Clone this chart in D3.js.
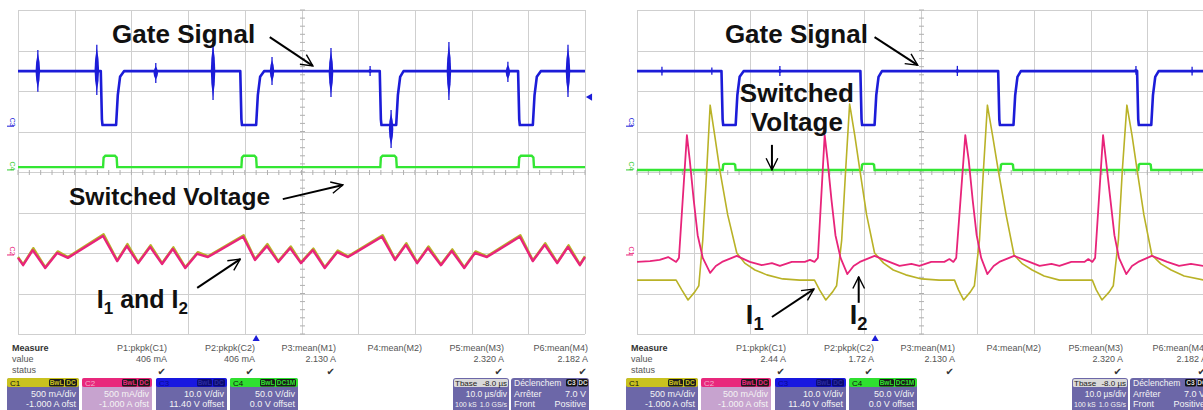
<!DOCTYPE html>
<html>
<head>
<meta charset="utf-8">
<script src="https://cdn.jsdelivr.net/npm/d3@7/dist/d3.min.js"></script>
<style>
    body { margin: 0; background: #fff; }
    svg { display: block; font-family: "Liberation Sans", Arial, sans-serif; }
</style>
</head>
<body>
<svg id="scope" width="1203" height="410"></svg>
<script>
/*************************************************************************************************************
 * Data read from the two scope captures (time in µs across 10 div, level in screen divisions)
 *************************************************************************************************************/
const timeDomain = [0, 100];   // 10.0 µs/div
const divDomain = [-4, 4];     // 8 vertical divisions

// left capture: both currents overlap
const gateLeft = [[0,2.49],[14.6,2.49],[14.8,1.3],[14.9,1.16],[17.3,1.16],[17.6,1.9],[18.0,2.35],[18.7,2.49],
    [39.2,2.49],[39.4,1.3],[39.5,1.16],[42.0,1.16],[42.3,1.9],[42.7,2.35],[43.4,2.49],
    [63.8,2.49],[64.0,1.3],[64.1,1.16],[66.7,1.16],[67.0,1.9],[67.4,2.35],[68.0,2.49],
    [88.2,2.49],[88.4,1.3],[88.5,1.16],[90.8,1.16],[91.1,1.9],[91.5,2.35],[92.2,2.49],[100,2.49]];
// switching noise bursts on the gate trace: [t, top, bottom]
const gateSpikesLeft = [[3.5,3.01,1.98],[13.9,3.14,1.90],[24.3,2.69,2.20],[34.4,3.21,1.78],[44.8,2.84,2.15],
    [55.2,3.06,1.85],[62.1,2.62,2.37],[65.8,1.53,0.59],[76.0,3.21,1.78],[86.4,2.72,2.22],[97.0,3.14,1.85]];
const switchLeft = [[0,0.12],[15.0,0.12],[15.1,0.36],[15.4,0.40],[17.1,0.40],[17.4,0.36],[17.5,0.12],
    [39.4,0.12],[39.5,0.36],[39.8,0.40],[41.7,0.40],[42.0,0.36],[42.1,0.12],
    [63.9,0.12],[64.0,0.36],[64.3,0.40],[66.4,0.40],[66.7,0.36],[66.8,0.12],
    [88.3,0.12],[88.4,0.36],[88.7,0.40],[90.6,0.40],[90.9,0.36],[91.0,0.12],[100,0.12]];
const i1Left = [[0,-2.10],[0.9,-2.28],[2.7,-1.88],[4.8,-2.35],[7.0,-1.96],[8.8,-2.10],[15.1,-1.54],[17.5,-2.18],
    [19.3,-1.78],[21.2,-2.23],[23.4,-1.81],[25.4,-2.25],[27.4,-1.86],[29.5,-2.35],[31.7,-1.98],[33.5,-2.08],
    [39.8,-1.56],[41.8,-2.15],[44.0,-1.78],[45.9,-2.20],[48.1,-1.84],[49.9,-2.23],[52.1,-1.89],[54.1,-2.35],
    [56.4,-1.94],[58.2,-2.08],[64.3,-1.56],[66.5,-2.15],[68.5,-1.76],[70.4,-2.23],[72.4,-1.84],[74.6,-2.28],
    [76.6,-1.91],[78.7,-2.35],[80.7,-1.96],[82.7,-2.08],[88.6,-1.56],[90.8,-2.18],[93.0,-1.76],[95.1,-2.23],
    [97.1,-1.81],[99.1,-2.28],[100,-2.08]];
const i2Left = [[0,-2.12],[0.9,-2.30],[2.6,-1.93],[4.8,-2.37],[6.9,-2.00],[8.8,-2.12],[15.0,-1.58],[17.5,-2.20],
    [19.2,-1.83],[21.2,-2.25],[23.3,-1.85],[25.4,-2.27],[27.3,-1.90],[29.5,-2.37],[31.6,-2.02],[33.5,-2.10],
    [39.7,-1.60],[41.8,-2.17],[43.9,-1.83],[45.9,-2.22],[48.0,-1.88],[49.9,-2.25],[52.0,-1.93],[54.1,-2.37],
    [56.3,-1.98],[58.2,-2.10],[64.2,-1.60],[66.5,-2.17],[68.4,-1.80],[70.4,-2.25],[72.3,-1.88],[74.6,-2.30],
    [76.5,-1.95],[78.7,-2.37],[80.6,-2.00],[82.7,-2.10],[88.5,-1.60],[90.8,-2.20],[92.9,-1.80],[95.1,-2.25],
    [97.0,-1.85],[99.1,-2.30],[100,-2.10]];

// right capture: currents split
const gateRight = [[0,2.49],[14.9,2.49],[15.1,1.3],[15.2,1.16],[17.4,1.16],[17.7,1.9],[18.1,2.35],[18.8,2.49],
    [39.4,2.49],[39.6,1.3],[39.7,1.16],[41.9,1.16],[42.2,1.9],[42.6,2.35],[43.2,2.49],
    [63.7,2.49],[63.9,1.3],[64.0,1.16],[66.4,1.16],[66.7,1.9],[67.1,2.35],[67.7,2.49],
    [88.2,2.49],[88.4,1.3],[88.5,1.16],[90.7,1.16],[91.0,1.9],[91.4,2.35],[92.0,2.49],[100,2.49]];
const gateSpikesRight = [[4.4,2.60,2.38],[13.2,2.58,2.40],[25.2,2.62,2.37],[56.5,2.62,2.37],[88.0,2.62,2.40],[97.9,2.60,2.38]];
const switchRight = [[0,0.05],[15.1,0.05],[15.2,0.18],[15.4,0.20],[17.1,0.20],[17.3,0.18],[17.4,0.05],
    [39.6,0.05],[39.7,0.18],[39.9,0.20],[41.6,0.20],[41.8,0.18],[41.9,0.05],
    [64.1,0.05],[64.2,0.18],[64.4,0.20],[66.1,0.20],[66.3,0.18],[66.4,0.05],
    [88.4,0.05],[88.5,0.18],[88.7,0.20],[90.4,0.20],[90.6,0.18],[90.7,0.05],[100,0.05]];
const i1Right = [[0,-2.67],[4.0,-2.67],[6.9,-2.67],[7.9,-2.91],[9.0,-3.16],[10.2,-2.96],[10.9,-2.81],[11.6,-1.68],
    [12.3,0.05],[12.9,1.65],[13.7,0.91],[14.6,0.05],[16.0,-1.06],[17.6,-2.00],[19.0,-2.25],[20.8,-2.42],[22.9,-2.54],
    [25.7,-2.64],[28.7,-2.67],[31.3,-2.67],[32.2,-2.91],[33.3,-3.16],[34.5,-2.96],[35.2,-2.81],[36.1,-1.68],
    [36.8,0.05],[37.5,1.68],[38.4,0.91],[39.3,0.05],[40.5,-1.06],[41.9,-2.00],[43.5,-2.25],[45.2,-2.42],[47.4,-2.54],
    [50.2,-2.64],[53.3,-2.67],[56.0,-2.67],[56.7,-2.91],[57.6,-3.16],[58.8,-2.96],[59.5,-2.81],[60.4,-1.68],
    [61.1,0.05],[61.8,1.65],[62.7,0.91],[63.7,0.05],[65.1,-1.06],[66.5,-2.05],[68.0,-2.27],[69.7,-2.42],[71.8,-2.57],
    [74.5,-2.67],[80.3,-2.67],[81.0,-2.91],[82.0,-3.16],[83.3,-2.96],[84.0,-2.81],[84.9,-1.68],
    [85.6,0.05],[86.4,1.65],[87.3,0.91],[88.2,0.05],[89.4,-1.06],[90.8,-2.05],[92.4,-2.27],[94.2,-2.42],[96.5,-2.57],[100,-2.67]];
const i2Right = [[0,-2.22],[2.3,-2.20],[4.0,-2.17],[5.5,-2.10],[6.9,-2.22],[7.4,-2.12],[8.8,0.91],[9.3,0.30],
    [10.0,-0.69],[10.7,-1.56],[11.6,-2.12],[12.9,-2.49],[13.9,-2.32],[15.0,-2.22],[17.6,-2.07],[19.9,-2.22],
    [22.0,-2.30],[23.8,-2.25],[25.2,-2.32],[27.3,-2.22],[29.6,-2.22],[30.5,-2.17],[31.3,-2.22],[31.9,-2.12],
    [33.1,0.91],[33.6,0.30],[34.3,-0.69],[35.0,-1.56],[35.9,-2.12],[37.1,-2.52],[38.2,-2.32],[39.3,-2.22],
    [41.9,-2.07],[44.5,-2.22],[46.3,-2.32],[48.4,-2.27],[49.8,-2.32],[51.9,-2.22],[54.2,-2.22],[55.1,-2.15],
    [55.8,-2.22],[56.3,-2.12],[57.9,0.91],[58.5,0.30],[59.2,-0.69],[59.9,-1.56],[60.7,-2.12],[61.8,-2.52],
    [62.9,-2.32],[63.9,-2.22],[66.5,-2.07],[69.2,-2.22],[71.0,-2.32],[73.1,-2.27],[74.5,-2.32],[76.6,-2.22],
    [78.9,-2.22],[79.6,-2.15],[80.3,-2.22],[80.8,-2.12],[82.2,0.91],[82.7,0.30],[83.5,-0.69],[84.2,-1.56],
    [85.0,-2.12],[86.3,-2.52],[87.3,-2.32],[88.4,-2.22],[90.8,-2.07],[93.5,-2.22],[95.6,-2.32],[97.7,-2.27],[100,-2.32]];

// markers
const triggerTime = 42;          // Tbase -8.0 µs from screen centre
const triggerLevel = 1.85;       // div, C3 trigger 7.0 V
const channelMarks = [["C3", 1.23, "#1c1cd8"], ["C4", 0.15, "#33cc33"]];
const currentMarkLeft = ["C2", -1.95, "#e8247a"];
const currentMarkRight = ["C1", -1.95, "#e8247a"];

// measurement table
const measureHeaders = ["P1:pkpk(C1)", "P2:pkpk(C2)", "P3:mean(M1)", "P4:mean(M2)", "P5:mean(M3)", "P6:mean(M4)"];
const measureLeft = ["406 mA", "406 mA", "2.130 A", "", "2.320 A", "2.182 A"];
const measureRight = ["2.44 A", "1.72 A", "2.130 A", "", "2.320 A", "2.182 A"];
const measureStatus = [true, true, true, false, true, true];
const rowLabels = ["value", "status"];

// channel descriptor boxes
const channelNames = ["C1", "C2", "C3", "C4"];
const channelCoupling = [["BwL", "DC"], ["BwL", "DC"], ["BwL", "DC"], ["BwL", "DC1M"]];
const channelScale = ["500 mA/div", "500 mA/div", "10.0 V/div", "50.0 V/div"];
const channelOffset = ["-1.000 A ofst", "-1.000 A ofst", "11.40 V offset", "0.0 V offset"];
const timebase = ["Tbase", "-8.0 µs", "10.0 µs/div", "100 kS", "1.0 GS/s"];
const trigger = ["Déclenchem", ["C3", "DC"], "Arrêter", "7.0 V", "Front", "Positive"];

/*************************************************************************************************************
 * Drawing
 *************************************************************************************************************/
const colors = {
    gate: "#1c1cd8", sw: "#33e633", i1: "#b9b227", i2: "#e8247a",
    grid: "#cfcfcf", box: "#6c67a8", text: "#555"
};
const chanHead = ["#c9c21f", "#e8287c", "#1818e0", "#2fe02f"];
const chanBody = ["#6c67a8", "#c7a3cf", "#6c67a8", "#6c67a8"];
const badgeText = ["#c9c21f", "#e8287c", "#2a2aa0", "#2fe02f"];

const svg = d3.select("#scope");
svg.append("defs").append("marker")
    .attr("id", "arrow").attr("viewBox", "0 0 12 12")
    .attr("refX", 11).attr("refY", 6)
    .attr("markerWidth", 7).attr("markerHeight", 7)
    .attr("markerUnits", "strokeWidth")
    .attr("orient", "auto")
    .append("path").attr("d", "M1,1 L11,6 L1,11")
    .attr("fill", "none").attr("stroke", "#000").attr("stroke-width", 1.2);

function drawPanel(x0, data) {
    let x = d3.scaleLinear().domain(timeDomain).range([x0, x0 + 567]),
        y = d3.scaleLinear().domain(divDomain).range([334, 10]);
    let g = svg.append("g");

    // graticule
    let grid = g.append("g").attr("stroke", colors.grid).attr("stroke-width", 1);
    d3.range(0, 101, 10).forEach(t => {
        grid.append("line").attr("x1", Math.round(x(t)) + 0.5).attr("x2", Math.round(x(t)) + 0.5)
            .attr("y1", y(4)).attr("y2", y(-4));
    });
    d3.range(-4, 5).forEach(v => {
        grid.append("line").attr("x1", x(0)).attr("x2", x(100))
            .attr("y1", Math.round(y(v)) + 0.5).attr("y2", Math.round(y(v)) + 0.5);
    });
    let cx = Math.round(x(50)) + 0.5, cy = Math.round(y(0)) + 0.5;
    d3.range(-4, 4.01, 0.2).forEach(v => {
        grid.append("line").attr("x1", cx - 2.5).attr("x2", cx + 2.5)
            .attr("y1", y(v)).attr("y2", y(v)).attr("stroke", "#b0b0b0");
    });
    d3.range(0, 100.1, 2).forEach(t => {
        grid.append("line").attr("x1", x(t)).attr("x2", x(t))
            .attr("y1", cy - 2.5).attr("y2", cy + 2.5).attr("stroke", "#b0b0b0");
    });

    let line = d3.line().x(d => x(d[0])).y(d => y(d[1]));

    // channel ground labels
    data.marks.forEach(m => {
        let ly = y(m[1]);
        g.append("text").attr("transform", `translate(${x0 - 8},${ly}) rotate(90)`)
            .attr("text-anchor", "middle").attr("font-size", 7).attr("fill", m[2]).text(m[0]);
        g.append("line").attr("x1", x0 - 11).attr("x2", x0 - 4)
            .attr("y1", ly + 4).attr("y2", ly + 4).attr("stroke", m[2]).attr("stroke-width", 1);
    });

    // traces
    g.append("path").attr("d", line(data.sw)).attr("fill", "none")
        .attr("stroke", colors.sw).attr("stroke-width", 2.4);
    g.append("path").attr("d", line(data.gate)).attr("fill", "none")
        .attr("stroke", colors.gate).attr("stroke-width", 2.6).attr("stroke-linejoin", "round");
    data.spikes.forEach(s => {
        let sx = x(s[0]), mid = y((s[1] + s[2]) / 2), top = y(s[1]), bot = y(s[2]);
        g.append("line").attr("x1", sx).attr("x2", sx).attr("y1", top).attr("y2", bot)
            .attr("stroke", colors.gate).attr("stroke-width", 1.3);
        g.append("path")
            .attr("d", `M${sx},${top + 3} Q${sx + 4.5},${mid} ${sx},${bot - 3} Q${sx - 4.5},${mid} ${sx},${top + 3}Z`)
            .attr("fill", colors.gate);
    });
    g.append("path").attr("d", line(data.i1)).attr("fill", "none")
        .attr("stroke", colors.i1).attr("stroke-width", data.thin ? 1.6 : 2.4).attr("stroke-linejoin", "round");
    g.append("path").attr("d", line(data.i2)).attr("fill", "none")
        .attr("stroke", colors.i2).attr("stroke-width", data.thin ? 1.8 : 2.4).attr("stroke-linejoin", "round");

    // trigger markers
    g.append("path").attr("d", d3.symbol(d3.symbolTriangle, 22)())
        .attr("transform", `translate(${x(triggerTime)},${y(-4) + 5})`).attr("fill", colors.gate);
    g.append("path").attr("d", d3.symbol(d3.symbolTriangle, 22)())
        .attr("transform", `translate(${x(100) + 5},${y(triggerLevel)}) rotate(-90)`).attr("fill", colors.gate);

    // annotations
    let ann = g.append("g").attr("font-weight", "bold").attr("fill", "#111");
    data.labels.forEach(l => {
        let t = ann.append("text").attr("x", x(l.t)).attr("y", y(l.v))
            .attr("font-size", l.size).attr("text-anchor", l.anchor || "start");
        let lowered = false;
        l.parts.forEach(p => {
            let sp = t.append("tspan").text(p.txt);
            if (p.sub) {
                sp.attr("font-size", l.size * 0.68).attr("dy", 6);
                lowered = true;
            } else if (lowered) {
                sp.attr("dy", -6);
                lowered = false;
            }
        });
    });
    data.arrows.forEach(a => {
        g.append("line").attr("x1", x(a[0])).attr("y1", y(a[1])).attr("x2", x(a[2])).attr("y2", y(a[3]))
            .attr("stroke", "#000").attr("stroke-width", 2).attr("marker-end", "url(#arrow)");
    });

    // measurement table
    let mt = g.append("g").attr("font-size", 9).attr("fill", colors.text);
    mt.append("text").attr("x", x0 - 6).attr("y", 351).attr("font-weight", "bold").attr("fill", "#333").text("Measure");
    mt.append("text").attr("x", x0 - 6).attr("y", 362).text(rowLabels[0]);
    mt.append("text").attr("x", x0 - 6).attr("y", 373).text(rowLabels[1]);
    let cols = [149, 237, 318, 404, 486, 570];
    measureHeaders.forEach((h, i) => {
        let cxr = x0 + cols[i];
        mt.append("text").attr("x", cxr).attr("y", 351).attr("text-anchor", "end").text(h);
        if (data.measure[i]) {
            mt.append("text").attr("x", cxr).attr("y", 362).attr("text-anchor", "end").text(data.measure[i]);
        }
        if (measureStatus[i]) {
            mt.append("text").attr("x", cxr - 1).attr("y", 375).attr("text-anchor", "end")
                .attr("font-family", "DejaVu Sans").attr("font-size", 10).attr("fill", "#333").text("\u2714");
        }
    });

    // channel boxes
    let boxX = [-11, 64, 138, 212], boxW = [72, 70, 71, 68];
    channelNames.forEach((c, i) => {
        let bx = x0 + boxX[i], b = g.append("g");
        b.append("rect").attr("x", bx).attr("y", 378).attr("width", boxW[i]).attr("height", 40)
            .attr("rx", 3).attr("fill", chanBody[i]);
        b.append("rect").attr("x", bx).attr("y", 378).attr("width", boxW[i]).attr("height", 9)
            .attr("rx", 2).attr("fill", chanHead[i]);
        b.append("text").attr("x", bx + 3).attr("y", 385.5).attr("font-size", 8)
            .attr("fill", i === 2 ? "#0a0a90" : (i === 1 ? "#f4b0cc" : "#111")).text(c);
        let bw = [15, i === 3 ? 20 : 12];
        let right = bx + boxW[i] - 2;
        [1, 0].forEach(k => {
            let w = bw[k];
            let left = k === 1 ? right - w : right - bw[1] - 1 - w;
            b.append("rect").attr("x", left).attr("y", 379).attr("width", w).attr("height", 7.5)
                .attr("rx", 1.5).attr("fill", i === 2 ? "#0b0b70" : "#1a1a1a");
            b.append("text").attr("x", left + w / 2).attr("y", 385).attr("text-anchor", "middle")
                .attr("font-size", 6.5).attr("font-weight", "bold").attr("fill", badgeText[i]).text(channelCoupling[i][k]);
        });
        b.append("text").attr("x", bx + boxW[i] - 3).attr("y", 397).attr("text-anchor", "end")
            .attr("font-size", 9).attr("fill", "#f4f4f4").text(channelScale[i]);
        b.append("text").attr("x", bx + boxW[i] - 3).attr("y", 407).attr("text-anchor", "end")
            .attr("font-size", 9).attr("fill", "#f4f4f4").text(channelOffset[i]);
    });

    // timebase box
    let tb = g.append("g").attr("font-size", 8), tx = x0 + 435, tw = 56;
    tb.append("rect").attr("x", tx).attr("y", 378).attr("width", tw).attr("height", 40).attr("rx", 3).attr("fill", colors.box);
    tb.append("rect").attr("x", tx + 1).attr("y", 379).attr("width", tw - 2).attr("height", 8).attr("rx", 1.5).attr("fill", "#d9d9d9");
    tb.append("text").attr("x", tx + 2).attr("y", 386).attr("fill", "#222").text(timebase[0]);
    tb.append("text").attr("x", tx + tw - 2).attr("y", 386).attr("text-anchor", "end").attr("fill", "#222").text(timebase[1]);
    tb.append("text").attr("x", tx + tw - 2).attr("y", 397).attr("font-size", 8.5).attr("text-anchor", "end").attr("fill", "#f4f4f4").text(timebase[2]);
    tb.append("text").attr("x", tx + 2).attr("y", 407).attr("font-size", 7).attr("fill", "#f4f4f4").text(timebase[3]);
    tb.append("text").attr("x", tx + tw - 2).attr("y", 407).attr("font-size", 7).attr("text-anchor", "end").attr("fill", "#f4f4f4").text(timebase[4]);

    // trigger box
    let tg = g.append("g"), gx = x0 + 493, gw = 78;
    tg.append("rect").attr("x", gx).attr("y", 378).attr("width", gw).attr("height", 40).attr("rx", 3).attr("fill", colors.box);
    tg.append("text").attr("x", gx + 3).attr("y", 386).attr("font-size", 8.5).attr("fill", "#f4f4f4").text(trigger[0]);
    [[gx + gw - 23, 11], [gx + gw - 11, 10]].forEach((r, k) => {
        tg.append("rect").attr("x", r[0]).attr("y", 379).attr("width", r[1]).attr("height", 7.5).attr("rx", 1.5).attr("fill", "#111");
        tg.append("text").attr("x", r[0] + r[1] / 2).attr("y", 385).attr("text-anchor", "middle")
            .attr("font-size", 6.5).attr("font-weight", "bold").attr("fill", "#ddd").text(trigger[1][k]);
    });
    tg.append("text").attr("x", gx + 3).attr("y", 397).attr("font-size", 9).attr("fill", "#f4f4f4").text(trigger[2]);
    tg.append("text").attr("x", gx + gw - 3).attr("y", 397).attr("font-size", 9).attr("text-anchor", "end").attr("fill", "#f4f4f4").text(trigger[3]);
    tg.append("text").attr("x", gx + 3).attr("y", 407).attr("font-size", 9).attr("fill", "#f4f4f4").text(trigger[4]);
    tg.append("text").attr("x", gx + gw - 3).attr("y", 407).attr("font-size", 9).attr("text-anchor", "end").attr("fill", "#f4f4f4").text(trigger[5]);
}

drawPanel(18, {
    gate: gateLeft, spikes: gateSpikesLeft, sw: switchLeft, i1: i1Left, i2: i2Left, thin: false,
    marks: channelMarks.concat([currentMarkLeft]), measure: measureLeft,
    labels: [
        {t: 16.6, v: 3.19, size: 26, parts: [{txt: "Gate Signal"}]},
        {t: 9.0, v: -0.81, size: 24.5, parts: [{txt: "Switched Voltage"}]},
        {t: 13.9, v: -3.36, size: 25, parts: [{txt: "I"}, {txt: "1", sub: true}, {txt: " and I"}, {txt: "2", sub: true}]}
    ],
    arrows: [[44.4, 3.33, 52.0, 2.62], [46.7, -0.67, 57.3, -0.32], [31.6, -2.86, 39.2, -2.15]]
});

drawPanel(637, {
    gate: gateRight, spikes: gateSpikesRight, sw: switchRight, i1: i1Right, i2: i2Right, thin: true,
    marks: channelMarks.concat([currentMarkRight]), measure: measureRight,
    labels: [
        {t: 15.5, v: 3.19, size: 26, parts: [{txt: "Gate Signal"}]},
        {t: 28.2, v: 1.73, size: 26, anchor: "middle", parts: [{txt: "Switched"}]},
        {t: 28.2, v: 1.01, size: 26, anchor: "middle", parts: [{txt: "Voltage"}]},
        {t: 19.2, v: -3.75, size: 27, parts: [{txt: "I"}, {txt: "1", sub: true}]},
        {t: 37.5, v: -3.75, size: 27, parts: [{txt: "I"}, {txt: "2", sub: true}]}
    ],
    arrows: [[41.9, 3.33, 49.5, 2.64], [23.8, 0.67, 23.8, 0.05], [23.8, -3.58, 31.2, -2.89], [39.1, -3.23, 39.1, -2.59]]
});
</script>
</body>
</html>
